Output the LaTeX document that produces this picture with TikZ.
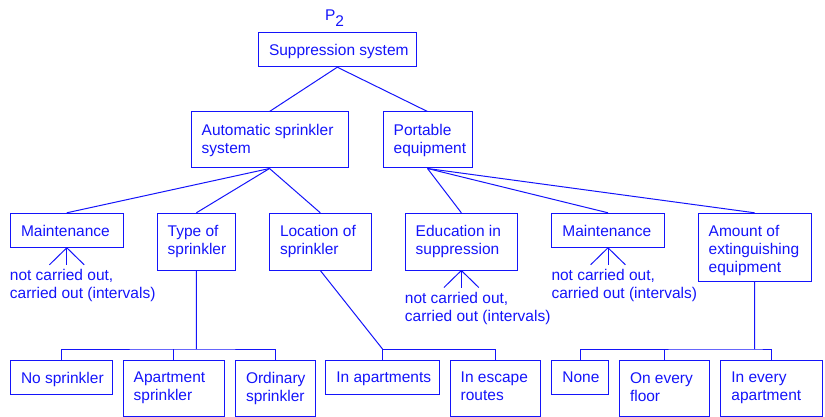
\documentclass[tikz,border=0pt]{standalone}
\usepackage{fontspec}
\setmainfont{Liberation Sans}
\definecolor{ink}{RGB}{20,20,250}
\newcommand\bx[6]{%
  \node[bx, minimum width={#4-#2}, minimum height={#5-#3}] (#1) at ({(#2+#4)/2},{(#3+#5)/2}) {};
  \node[bt, anchor=north west] (#1-t) at ({#2+10.5},{#3+11.8}) {#6};
}
\newcommand\fork[1]{%
  \coordinate (#1-fm) at ([yshift=-17pt]#1.south);
  \coordinate (#1-fl) at ([xshift=-17.4pt,yshift=-17pt]#1.south);
  \coordinate (#1-fr) at ([xshift=17.4pt,yshift=-17pt]#1.south);
  \draw[ln] (#1.south) -- (#1-fm);
  \draw[ln] (#1.south) -- (#1-fl);
  \draw[ln] (#1.south) -- (#1-fr);
}
\begin{document}
\begin{tikzpicture}[x=1pt,y=-1pt,
  bx/.style={draw=ink, line width=1pt, inner sep=0pt, rectangle},
  bt/.style={text=ink, font=\fontsize{15.5}{18}\selectfont, align=left, inner sep=0pt},
  ln/.style={draw=ink, line width=1pt}]
\useasboundingbox (0,0) rectangle (825,417);
\node[bt, anchor=base west] (p2) at (324.9,20.7) {P\raisebox{-6pt}{2}};
\bx{sup}{258.3}{32.3}{416.3}{66.7}{Suppression system}
\bx{auto}{191}{112}{348}{168}{Automatic sprinkler\\system}
\bx{port}{383}{112}{472}{168}{Portable\\equipment}
\bx{mA}{10.3}{213.3}{123.3}{247.3}{Maintenance}
\bx{type}{157}{213.3}{235.7}{270}{Type of\\sprinkler}
\bx{loc}{269.3}{213.3}{371.3}{270}{Location of\\sprinkler}
\bx{edu}{405}{213.3}{517.7}{270}{Education in\\suppression}
\bx{mB}{551.7}{213.3}{664.3}{247.3}{Maintenance}
\bx{amt}{698}{213.3}{811.3}{281}{Amount of\\extinguishing\\equipment}
\bx{nos}{10.3}{360.3}{112}{394}{No sprinkler}
\bx{apt}{123}{360.3}{224.7}{416}{Apartment\\sprinkler}
\bx{ord}{235.3}{360.3}{315}{416}{Ordinary\\sprinkler}
\bx{inap}{325.7}{360.3}{439}{394}{In apartments}
\bx{esc}{450}{360.3}{540.3}{416}{In escape\\routes}
\bx{none}{551.7}{360.3}{608.3}{394}{None}
\bx{floor}{619.3}{360.3}{709.3}{416}{On every\\floor}
\bx{every}{720.7}{360.3}{822.3}{416}{In every\\apartment}
% annotations
\node[bt, anchor=north west] (annA) at (9.7,268.9) {not carried out,\\carried out (intervals)};
\node[bt, anchor=north west] (annE) at (404.7,291.9) {not carried out,\\carried out (intervals)};
\node[bt, anchor=north west] (annB) at (551.3,268.9) {not carried out,\\carried out (intervals)};
% tree connectors
\draw[ln] (sup.south) -- (auto.north);
\draw[ln] (sup.south) -- (port.north);
\draw[ln] (auto.south) -- (mA.north);
\draw[ln] (auto.south) -- (type.north);
\draw[ln] (auto.south) -- (loc.north);
\draw[ln] (port.south) -- (edu.north);
\draw[ln] (port.south) -- (mB.north);
\draw[ln] (port.south) -- (amt.north);
\fork{mA}
\fork{edu}
\fork{mB}
% buses
\coordinate (tb) at (196.3,349);
\coordinate (lb) at (382.5,349);
\coordinate (ab) at (754.6,349);
\draw[ln] (type.south) -- (tb);
\draw[ln] (nos.north) |- (tb) -| (ord.north);
\draw[ln] (apt.north) -- (apt.north |- tb);
\draw[ln] (loc.south) -- (lb);
\draw[ln] (inap.north) -- (inap.north |- lb) -| (esc.north);
\draw[ln] (amt.south) -- (ab);
\draw[ln] (none.north) |- (ab) -| (every.north);
\draw[ln] (floor.north) -- (floor.north |- ab);
\end{tikzpicture}
\end{document}
